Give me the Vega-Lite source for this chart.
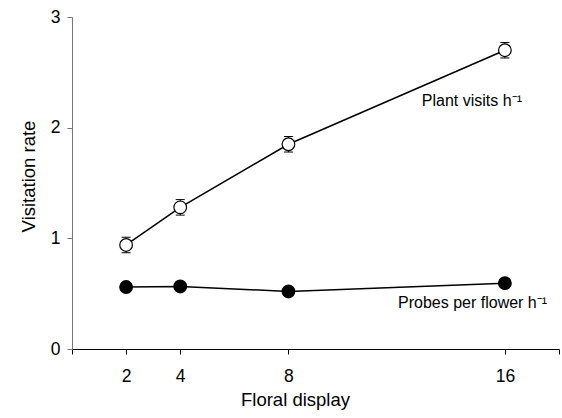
{
  "$schema": "https://vega.github.io/schema/vega-lite/v6.json",
  "width": 487,
  "height": 332,
  "autosize": "none",
  "padding": {"left": 72, "top": 17, "right": 3, "bottom": 69},
  "config": {
    "view": {"stroke": null},
    "font": "Liberation Sans",
    "axis": {"grid": false, "labelColor": "black", "titleColor": "black", "titleFontWeight": "normal", "tickSize": 5, "labelFontSize": 17.5, "titleFontSize": 18.5, "labelFont": "Liberation Sans", "titleFont": "Liberation Sans"}
  },
  "data": {
    "values": [
      {"display": 2, "series": "Plant visits", "rate": 0.94, "lo": 0.87, "hi": 1.01},
      {"display": 4, "series": "Plant visits", "rate": 1.28, "lo": 1.21, "hi": 1.35},
      {"display": 8, "series": "Plant visits", "rate": 1.85, "lo": 1.78, "hi": 1.92},
      {"display": 16, "series": "Plant visits", "rate": 2.70, "lo": 2.63, "hi": 2.77},
      {"display": 2, "series": "Probes per flower", "rate": 0.56, "lo": 0.56, "hi": 0.56},
      {"display": 4, "series": "Probes per flower", "rate": 0.565, "lo": 0.565, "hi": 0.565},
      {"display": 8, "series": "Probes per flower", "rate": 0.52, "lo": 0.52, "hi": 0.52},
      {"display": 16, "series": "Probes per flower", "rate": 0.595, "lo": 0.595, "hi": 0.595}
    ]
  },
  "encoding": {
    "x": {
      "field": "display", "type": "quantitative",
      "scale": {"domain": [0, 18], "nice": false, "zero": false},
      "axis": {
        "values": [0, 2, 4, 8, 16, 18],
        "labelExpr": "(datum.value == 0 || datum.value == 18) ? '' : datum.label",
        "title": "Floral display",
        "titleX": 223,
        "titlePadding": 6,
        "labelPadding": 13,
        "domainColor": "black", "tickColor": "black"
      }
    }
  },
  "layer": [
    {
      "transform": [{"filter": "datum.series == 'Plant visits'"}],
      "mark": {"type": "rule", "color": "black", "strokeWidth": 1},
      "encoding": {
        "y": {"field": "lo", "type": "quantitative"},
        "y2": {"field": "hi"}
      }
    },
    {
      "transform": [{"filter": "datum.series == 'Plant visits'"}],
      "mark": {"type": "tick", "orient": "horizontal", "color": "black", "size": 9, "thickness": 1, "opacity": 1},
      "encoding": {"y": {"field": "lo", "type": "quantitative"}}
    },
    {
      "transform": [{"filter": "datum.series == 'Plant visits'"}],
      "mark": {"type": "tick", "orient": "horizontal", "color": "black", "size": 9, "thickness": 1, "opacity": 1},
      "encoding": {"y": {"field": "hi", "type": "quantitative"}}
    },
    {
      "mark": {"type": "line", "color": "black", "strokeWidth": 1.5},
      "encoding": {
        "y": {
          "field": "rate", "type": "quantitative",
          "scale": {"domain": [0, 3], "nice": false},
          "axis": {
            "values": [0, 1, 2, 3],
            "format": "d",
            "title": "Visitation rate",
            "titleY": 159,
            "titlePadding": 12,
            "labelPadding": 7,
            "domainColor": "#777777", "tickColor": "#777777"
          }
        },
        "detail": {"field": "series"}
      }
    },
    {
      "mark": {"type": "point", "shape": "circle", "filled": true, "size": 160, "stroke": "black", "strokeWidth": 1.2, "opacity": 1},
      "encoding": {
        "y": {"field": "rate", "type": "quantitative"},
        "fill": {"field": "series", "type": "nominal", "scale": {"domain": ["Plant visits", "Probes per flower"], "range": ["white", "black"]}, "legend": null}
      }
    },
    {
      "data": {
        "values": [
          {"tx": 12.93, "ty": 2.24, "label": "Plant visits h⁻¹"},
          {"tx": 12.05, "ty": 0.42, "label": "Probes per flower h⁻¹"}
        ]
      },
      "mark": {"type": "text", "align": "left", "baseline": "middle", "fontSize": 16, "font": "Liberation Sans", "color": "black"},
      "encoding": {
        "x": {"field": "tx", "type": "quantitative"},
        "y": {"field": "ty", "type": "quantitative"},
        "text": {"field": "label"}
      }
    }
  ]
}
